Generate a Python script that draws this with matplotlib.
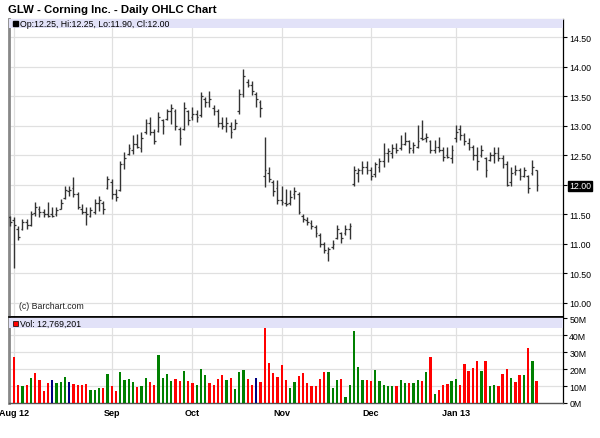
import numpy as np
import matplotlib
matplotlib.use("Agg")
import matplotlib.pyplot as plt
from matplotlib.patches import Rectangle

plt.rcParams['font.family'] = ['Liberation Sans', 'DejaVu Sans']

# ---------------- data ----------------
highs = [11.48, 11.45, 11.31, 11.42, 11.42, 11.56, 11.72, 11.65, 11.59, 11.71,
         11.62, 11.62, 11.76, 11.99, 11.99, 12.13, 11.88, 11.68, 11.62, 11.62,
         11.76, 11.82, 11.73, 12.16, 12.10, 11.93, 12.41, 12.56, 12.70, 12.84,
         12.87, 12.90, 13.12, 13.15, 12.95, 13.24, 13.12, 13.29, 13.38, 13.29,
         12.98, 13.41, 13.27, 13.32, 13.27, 13.58, 13.49, 13.60, 13.35, 13.29,
         13.15, 13.15, 13.07, 13.12, 13.63, 13.97, 13.80, 13.77, 13.58, 13.44,
         12.81, 12.31, 12.08, 12.08, 11.99, 11.94, 11.91, 11.97, 11.88, 11.51,
         11.46, 11.40, 11.32, 11.18, 11.03, 10.95, 11.06, 11.33, 11.20, 11.32,
         11.36, 12.33, 12.28, 12.40, 12.40, 12.31, 12.39, 12.46, 12.72, 12.62,
         12.70, 12.71, 12.85, 12.90, 12.76, 12.73, 13.02, 13.10, 12.88, 12.76,
         12.76, 12.82, 12.65, 12.65, 12.68, 13.02, 13.02, 12.88, 12.79, 12.68,
         12.65, 12.68, 12.48, 12.56, 12.65, 12.65, 12.51, 12.40, 12.31, 12.34,
         12.28, 12.31, 12.17, 12.42, 12.25]
lows = [11.31, 10.60, 11.06, 11.23, 11.25, 11.31, 11.48, 11.45, 11.45, 11.45,
        11.45, 11.48, 11.59, 11.76, 11.82, 11.79, 11.59, 11.51, 11.32, 11.45,
        11.51, 11.56, 11.51, 11.93, 11.76, 11.73, 11.90, 12.27, 12.50, 12.53,
        12.62, 12.56, 12.87, 12.84, 12.70, 12.90, 12.87, 13.10, 13.04, 12.93,
        12.67, 12.93, 13.01, 13.10, 13.07, 13.15, 13.32, 13.32, 13.18, 12.98,
        12.95, 12.90, 12.79, 12.95, 13.21, 13.49, 13.66, 13.52, 13.32, 13.15,
        11.97, 12.05, 11.81, 11.68, 11.66, 11.64, 11.66, 11.77, 11.51, 11.37,
        11.32, 11.26, 11.12, 10.95, 10.84, 10.71, 10.92, 11.09, 11.01, 11.15,
        11.09, 11.99, 12.05, 12.19, 12.19, 12.08, 12.14, 12.22, 12.31, 12.39,
        12.46, 12.55, 12.59, 12.68, 12.54, 12.54, 12.62, 12.76, 12.73, 12.54,
        12.54, 12.56, 12.40, 12.45, 12.37, 12.73, 12.76, 12.68, 12.59, 12.42,
        12.25, 12.48, 12.14, 12.40, 12.37, 12.40, 12.28, 11.98, 11.98, 12.17,
        12.08, 12.14, 11.87, 12.17, 11.90]
opens = [11.45, 11.40, 11.25, 11.25, 11.38, 11.33, 11.52, 11.60, 11.55, 11.50,
         11.50, 11.50, 11.60, 11.78, 11.90, 11.95, 11.85, 11.60, 11.55, 11.48,
         11.55, 11.70, 11.70, 11.95, 12.05, 11.85, 11.92, 12.35, 12.52, 12.60,
         12.70, 12.62, 12.90, 13.05, 12.90, 12.92, 13.10, 13.12, 13.25, 13.25,
         12.95, 12.95, 13.25, 13.15, 13.20, 13.18, 13.45, 13.40, 13.30, 13.25,
         13.05, 13.00, 13.00, 12.95, 13.25, 13.55, 13.75, 13.70, 13.55, 13.40,
         12.16, 12.20, 12.05, 11.95, 11.75, 11.70, 11.70, 11.85, 11.85, 11.48,
         11.40, 11.35, 11.28, 11.15, 11.00, 10.85, 10.95, 11.10, 11.18, 11.18,
         11.25, 12.02, 12.20, 12.25, 12.30, 12.25, 12.18, 12.30, 12.40, 12.55,
         12.55, 12.62, 12.62, 12.70, 12.75, 12.60, 12.65, 12.80, 12.80, 12.75,
         12.60, 12.65, 12.60, 12.50, 12.45, 12.80, 12.95, 12.85, 12.72, 12.65,
         12.50, 12.50, 12.45, 12.42, 12.50, 12.55, 12.45, 12.35, 12.05, 12.22,
         12.25, 12.15, 12.15, 12.20, 12.25]
closes = [11.38, 11.33, 11.12, 11.38, 11.33, 11.50, 11.62, 11.55, 11.50, 11.48,
          11.48, 11.58, 11.70, 11.92, 11.92, 11.85, 11.62, 11.55, 11.50, 11.58,
          11.70, 11.75, 11.60, 12.10, 11.85, 11.80, 12.35, 12.45, 12.62, 12.70,
          12.65, 12.80, 13.05, 12.90, 12.75, 13.15, 13.00, 13.25, 13.30, 13.00,
          12.80, 13.30, 13.10, 13.20, 13.15, 13.50, 13.40, 13.45, 13.25, 13.05,
          13.00, 13.05, 12.90, 13.05, 13.55, 13.85, 13.70, 13.60, 13.45, 13.30,
          12.25, 12.10, 11.90, 11.75, 11.72, 11.68, 11.80, 11.90, 11.55, 11.42,
          11.38, 11.30, 11.18, 11.00, 10.90, 10.92, 11.00, 11.25, 11.10, 11.25,
          11.30, 12.25, 12.25, 12.30, 12.25, 12.15, 12.35, 12.40, 12.55, 12.58,
          12.62, 12.60, 12.70, 12.75, 12.62, 12.68, 12.75, 12.78, 12.82, 12.60,
          12.65, 12.60, 12.48, 12.47, 12.60, 12.90, 12.85, 12.75, 12.65, 12.50,
          12.40, 12.60, 12.25, 12.50, 12.55, 12.45, 12.35, 12.00, 12.20, 12.25,
          12.15, 12.25, 11.95, 12.30, 12.00]

# volume in millions, for bars 1..124 (bar 0 lies under the left edge)
volumes = [26.9, 10.6, 9.8, 10.6, 14.7, 17.8, 13.7, 6.9, 11.8, 13.3,
           11.8, 12.4, 15.3, 12.2, 11.2, 10.6, 10.6, 11.2, 7.6, 7.6,
           8.6, 8.6, 16.9, 9.8, 7.3, 18.2, 13.3, 13.9, 12.4, 9.2,
           10.2, 14.7, 12.4, 10.6, 28.4, 14.7, 16.9, 12.7, 14.3, 12.9,
           18.8, 12.7, 11.8, 10.6, 19.8, 16.3, 11.8, 10.6, 14.3, 16.3,
           13.7, 14.7, 8.2, 18.4, 19.2, 14.3, 10.6, 14.7, 12.4, 46.1,
           23.3, 17.8, 15.3, 22.4, 13.7, 8.8, 12.4, 15.9, 17.5, 11.8,
           9.8, 10.2, 14.3, 18.2, 18.2, 8.8, 13.3, 14.3, 3.7, 10.8,
           42.4, 21.4, 13.3, 13.7, 12.9, 19.2, 12.7, 10.6, 9.8, 10.2,
           10.2, 13.3, 11.8, 11.8, 11.8, 13.7, 12.7, 18.2, 26.9, 5.1,
           7.6, 10.6, 11.2, 12.7, 14.3, 10.6, 22.7, 18.8, 20.8, 24.7,
           18.8, 24.7, 10.2, 10.6, 9.8, 16.9, 19.8, 14.7, 12.4, 16.3,
           16.3, 32.4, 24.9, 12.769201]
# direction of each volume bar (bars 1..124): u = up, d = down, e = unchanged
vol_dirs = ("ddududddde"
            "uuuedddduu"
            "ududduuuud"
            "uudduuuudd"
            "udduuudddd"
            "uduuuddedd"
            "ddddduuddd"
            "dddduuuduu"
            "uuudduuuuu"
            "duuduududu"
            "ddduuddddd"
            "uduudddudd"
            "udud")

month_labels = ["Aug 12", "Sep", "Oct", "Nov", "Dec", "Jan 13"]
month_index = [1, 24, 43, 64, 85, 105]
price_ticks = [10.0, 10.5, 11.0, 11.5, 12.0, 12.5, 13.0, 13.5, 14.0, 14.5]
vol_ticks = [0, 10, 20, 30, 40, 50]

# ---------------- figure ----------------
W, H = 600, 439
fig = plt.figure(figsize=(W / 100, H / 100), dpi=100)
left_px, right_px = 8.5, 563
top_px, sep_px, bot_px = 19.5, 317.5, 404


def rect(t, b):
    return [left_px / W, 1 - b / H, (right_px - left_px) / W, (b - t) / H]


axp = fig.add_axes(rect(top_px, sep_px))
axv = fig.add_axes(rect(sep_px, bot_px), sharex=axp)

x = np.arange(len(highs))
xv = np.arange(1, len(volumes) + 1)
grid_c = '#e0e0e0'

# price bars
bar_c = '#333333'
axp.vlines(x, lows, highs, color=bar_c, lw=1.0, zorder=3)
axp.hlines(opens, x - 0.42, x, color=bar_c, lw=0.9, zorder=3)
axp.hlines(closes, x, x + 0.42, color=bar_c, lw=0.9, zorder=3)

axp.set_xlim(-0.29, 130.2)
axp.set_ylim(9.771, 14.822)

# volume bars
cmap = {'u': '#008000', 'd': '#ff0000', 'e': '#000080'}
vcols = [cmap[d] for d in vol_dirs]
axv.bar(xv, volumes, width=0.55, color=vcols, zorder=3)
axv.set_ylim(0, 50.9)

for ax in (axp, axv):
    ax.set_facecolor('white')
    ax.set_xticks(month_index)
    ax.grid(True, color=grid_c, lw=0.9, zorder=0)
    ax.set_axisbelow(True)
    ax.yaxis.tick_right()
    ax.tick_params(axis='y', direction='out', length=3, width=0.8, labelsize=6.3,
                   pad=1.5, colors='black')
    ax.spines['left'].set_color('#888888')
    ax.spines['left'].set_linewidth(2.0)
    ax.spines['right'].set_color('black')
    ax.spines['right'].set_linewidth(0.9)

axp.tick_params(axis='x', length=0, labelbottom=False)
axp.set_yticks(price_ticks, labels=[f"{v:.2f}" for v in price_ticks])
for lbl in axp.get_yticklabels():
    if lbl.get_text() == f"{closes[-1]:.2f}":
        lbl.set_color('white')
        lbl.set_bbox(dict(facecolor='black', edgecolor='black', pad=0.6))
axp.spines['top'].set_color('#9a9a9a')
axp.spines['top'].set_linewidth(0.8)
axp.spines['bottom'].set_color('black')
axp.spines['bottom'].set_linewidth(1.2)

axv.set_yticks(vol_ticks, labels=[f"{v}M" for v in vol_ticks])
axv.set_xticks(month_index, labels=month_labels)
axv.tick_params(axis='x', length=0, labelsize=6.5, pad=3.5)
for lbl in axv.get_xticklabels():
    lbl.set_fontweight('bold')
axv.spines['top'].set_color('black')
axv.spines['top'].set_linewidth(1.2)
axv.spines['bottom'].set_color('#555555')
axv.spines['bottom'].set_linewidth(1.0)

# header bands
band_c = '#e2e2f8'
span = right_px - left_px
ph = sep_px - top_px
axp.add_patch(Rectangle((0, 1 - 9.5 / ph), 1, 9.5 / ph, transform=axp.transAxes,
                        facecolor=band_c, edgecolor='none', zorder=4))
axp.plot([(14.5 - left_px) / span], [1 - 4.8 / ph], marker='s', ms=3.6,
         color='black', transform=axp.transAxes, zorder=5)
axp.text((19.5 - left_px) / span, 1 - 4.8 / ph,
         f"Op:{opens[-1]:.2f}, Hi:{highs[-1]:.2f}, Lo:{lows[-1]:.2f}, Cl:{closes[-1]:.2f}",
         transform=axp.transAxes, fontsize=6.3, va='center', ha='left', zorder=5)
axp.text((19 - left_px) / span, 1 - 287 / ph, "(c) Barchart.com",
         transform=axp.transAxes, fontsize=6.3, va='center', ha='left', color='#222222')

vh = bot_px - sep_px
axv.add_patch(Rectangle((0, 1 - 11.5 / vh), 1, 10.5 / vh, transform=axv.transAxes,
                        facecolor=band_c, edgecolor='none', zorder=4))
axv.plot([(14.5 - left_px) / span], [1 - 6.5 / vh], marker='s', ms=3.6,
         color='#ff0000', markeredgecolor='black', markeredgewidth=0.5,
         transform=axv.transAxes, zorder=5)
axv.text((19.5 - left_px) / span, 1 - 6.5 / vh,
         f"Vol: {int(round(volumes[-1] * 1e6)):,}",
         transform=axv.transAxes, fontsize=6.3, va='center', ha='left', zorder=5)

fig.text(8 / W, 1 - 10 / H, "GLW - Corning Inc. - Daily OHLC Chart", fontsize=8.2,
         fontweight='bold', va='center', ha='left')

fig.savefig("out.png", dpi=100)
